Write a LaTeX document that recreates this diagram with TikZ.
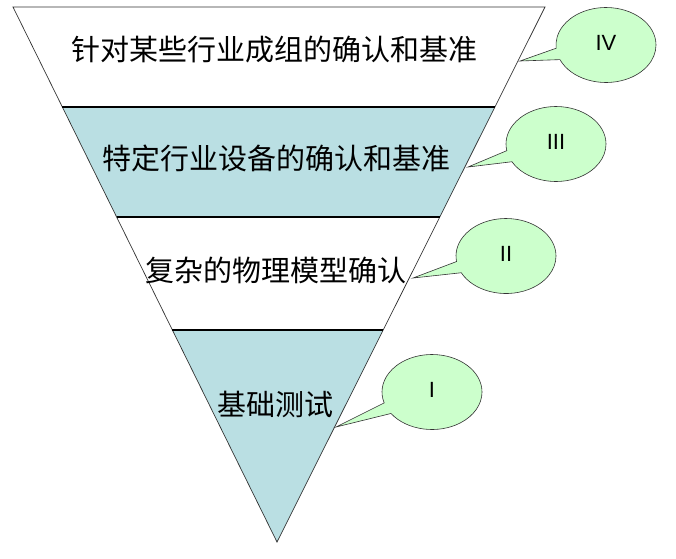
\documentclass[tikz,border=0pt]{standalone}
\usepackage{fontspec}
\setmainfont{Liberation Sans}
\newfontfamily\cjk{Noto Sans CJK SC}
\usetikzlibrary{calc,shapes.callouts}
\definecolor{bandblue}{HTML}{BADFE3}
\definecolor{bubble}{HTML}{CCFFCC}
\tikzset{
  bandtext/.style={font=\cjk\fontsize{29}{32}\selectfont, inner sep=0pt},
  bubblebox/.style={ellipse callout, draw=black!80, fill=bubble, line width=0.6pt,
     minimum width=100pt, minimum height=75pt, inner sep=0pt, callout pointer arc=18,
     font=\fontsize{22}{24}\selectfont, text depth=0pt},
  edge/.style={draw=black!80, line width=0.7pt},
  divider/.style={draw=black, line width=1.6pt}
}
\begin{document}
\begin{tikzpicture}[x=1pt,y=-1pt]
\useasboundingbox (0,0) rectangle (676,558);
\coordinate (L) at (13,7);
\coordinate (R) at (545,7);
\coordinate (A) at (277,542);
\coordinate (l1) at ($(L)!0.187!(A)$); \coordinate (r1) at ($(R)!0.187!(A)$);
\coordinate (l2) at ($(L)!0.3925!(A)$); \coordinate (r2) at ($(R)!0.3925!(A)$);
\coordinate (l3) at ($(L)!0.6037!(A)$); \coordinate (r3) at ($(R)!0.6037!(A)$);
\fill[bandblue] (l1) -- (r1) -- (r2) -- (l2) -- cycle;
\fill[bandblue] (l3) -- (r3) -- (A) -- cycle;
\draw[edge] (L) -- (R) -- (A) -- cycle;
\draw[divider] (l1) -- (r1);
\draw[divider] (l2) -- (r2);
\draw[divider] (l3) -- (r3);
\node[bandtext] (t4) at (274,50) {针对某些行业成组的确认和基准};
\node[bandtext] (t3) at (276,158) {特定行业设备的确认和基准};
\node[bandtext] (t2) at (276,270) {复杂的物理模型确认};
\node[bandtext] (t1) at (275,404) {基础测试};
\coordinate (p4) at (520,61);
\coordinate (p3) at (468,167);
\coordinate (p2) at (413,278);
\coordinate (p1) at (336,427);
\node[bubblebox, callout absolute pointer=(p4)] (b4) at (606,45) {\raisebox{5pt}{IV}};
\node[bubblebox, callout absolute pointer=(p3)] (b3) at (556,144) {\raisebox{5pt}{III}};
\node[bubblebox, callout absolute pointer=(p2)] (b2) at (506,256) {\raisebox{5pt}{II}};
\node[bubblebox, callout absolute pointer=(p1)] (b1) at (432,392) {\raisebox{5pt}{I}};
\end{tikzpicture}
\end{document}
